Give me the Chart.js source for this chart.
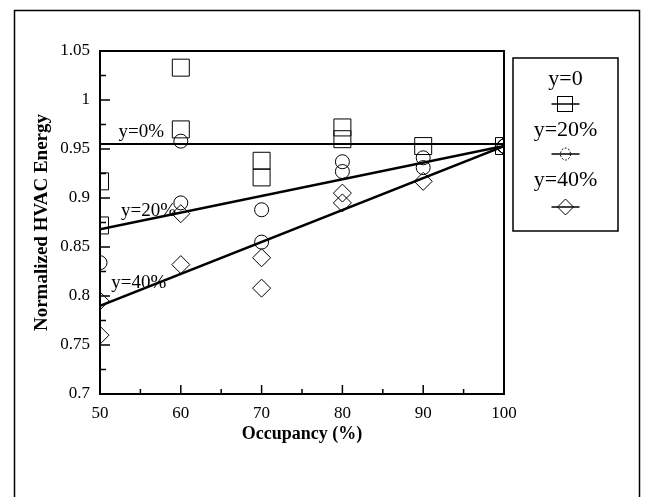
<!DOCTYPE html>
<html>
<head>
<meta charset="utf-8">
<script src="https://cdn.jsdelivr.net/npm/chart.js@4.4.1/dist/chart.umd.min.js"></script>
<style>
  html, body { margin: 0; padding: 0; background: #fff; }
  #wrap { width: 650px; height: 497px; position: relative; }
</style>
</head>
<body>
<div id="wrap"><canvas id="chart" width="650" height="497"></canvas></div>
<script>
// fitted lines (end points)
const lineX = [50, 100];
const fit0 = [0.955, 0.955];
const fit20 = [0.868, 0.953];
const fit40 = [0.79, 0.953];

// y=0 (squares)
const sqX = [50, 50, 60, 60, 70, 70, 80, 80, 90, 100];
const sqY = [0.917, 0.872, 1.033, 0.970, 0.938, 0.921, 0.972, 0.960, 0.953, 0.953];
// y=20% (circles)
const ciX = [50, 60, 60, 70, 70, 80, 80, 90, 90, 100];
const ciY = [0.834, 0.958, 0.895, 0.888, 0.855, 0.937, 0.927, 0.941, 0.931, 0.953];
// y=40% (diamonds)
const diX = [50, 50, 60, 60, 70, 70, 80, 80, 90, 100];
const diY = [0.795, 0.760, 0.884, 0.832, 0.839, 0.808, 0.905, 0.895, 0.917, 0.953];

const xTicks = [50, 60, 70, 80, 90, 100];
const yTicks = [0.7, 0.75, 0.8, 0.85, 0.9, 0.95, 1, 1.05];
const yTickLabels = ['0.7', '0.75', '0.8', '0.85', '0.9', '0.95', '1', '1.05'];
const lineLabels = ['y=0%', 'y=20%', 'y=40%'];
const legendTitles = ['y=0', 'y=20%', 'y=40%'];

const SERIF = '"Liberation Serif", "DejaVu Serif", serif';

function pts(xs, ys) {
    return xs.map((x, i) => ({ x: x, y: ys[i] }));
}

function markerSet(xs, ys, style, r) {
    return {
        type: 'scatter',
        data: pts(xs, ys),
        pointStyle: style,
        pointRadius: r,
        pointHoverRadius: r,
        pointBorderWidth: 1,
        borderColor: '#000',
        backgroundColor: 'rgba(0,0,0,0)',
        clip: 0
    };
}

function fitSet(ys, w) {
    return {
        type: 'line',
        data: pts(lineX, ys),
        borderColor: '#000',
        borderWidth: w,
        pointRadius: 0,
        fill: false,
        tension: 0
    };
}

// outer frame and white page
const pageFrame = {
    id: 'pageFrame',
    beforeDraw(chart) {
        const ctx = chart.ctx;
        ctx.save();
        ctx.fillStyle = '#fff';
        ctx.fillRect(0, 0, chart.width, chart.height);
        ctx.strokeStyle = '#000';
        ctx.lineWidth = 1.5;
        ctx.strokeRect(14.5, 10.5, 625, 520);
        ctx.restore();
    }
};

// box edges, inward ticks, line labels
const plotDecor = {
    id: 'plotDecor',
    afterDraw(chart) {
        const { ctx, chartArea: a, scales: { x, y } } = chart;
        ctx.save();
        ctx.strokeStyle = '#000';
        ctx.lineWidth = 2;
        ctx.beginPath();
        ctx.moveTo(a.left, a.top);
        ctx.lineTo(a.right, a.top);
        ctx.lineTo(a.right, a.bottom);
        ctx.stroke();

        ctx.lineWidth = 1.5;
        ctx.beginPath();
        xTicks.forEach((v, i) => {
            const px = x.getPixelForValue(v);
            ctx.moveTo(px, a.bottom);
            ctx.lineTo(px, a.bottom - 9);
            if (i < xTicks.length - 1) {
                const mx = x.getPixelForValue((v + xTicks[i + 1]) / 2);
                ctx.moveTo(mx, a.bottom);
                ctx.lineTo(mx, a.bottom - 5);
            }
        });
        yTicks.forEach((v, i) => {
            const py = y.getPixelForValue(v);
            ctx.moveTo(a.left, py);
            ctx.lineTo(a.left + 10, py);
            if (i < yTicks.length - 1) {
                const my = y.getPixelForValue((v + yTicks[i + 1]) / 2);
                ctx.moveTo(a.left, my);
                ctx.lineTo(a.left + 6, my);
            }
        });
        ctx.stroke();

        // labels next to the fitted lines
        ctx.fillStyle = '#000';
        ctx.font = '19px ' + SERIF;
        ctx.textBaseline = 'alphabetic';
        ctx.textAlign = 'left';
        const spots = [[52.3, 0.962], [52.6, 0.882], [51.4, 0.808]];
        lineLabels.forEach((t, i) => {
            ctx.fillText(t, x.getPixelForValue(spots[i][0]), y.getPixelForValue(spots[i][1]));
        });
        ctx.restore();
    }
};

// legend box: title above each symbol
const legendBox = {
    id: 'legendBox',
    afterDraw(chart) {
        const ctx = chart.ctx;
        const left = 513, top = 58, w = 105, h = 173;
        const cx = left + w / 2;
        ctx.save();
        ctx.strokeStyle = '#000';
        ctx.lineWidth = 1.5;
        ctx.strokeRect(left, top, w, h);
        ctx.fillStyle = '#000';
        ctx.font = '22px ' + SERIF;
        ctx.textAlign = 'center';
        ctx.textBaseline = 'middle';
        const textY = [79, 130, 180];
        const symY = [104, 154, 207];
        legendTitles.forEach((t, i) => ctx.fillText(t, cx, textY[i]));

        ctx.lineWidth = 1.5;
        symY.forEach(sy => {
            ctx.beginPath();
            ctx.moveTo(cx - 14, sy);
            ctx.lineTo(cx + 14, sy);
            ctx.stroke();
        });
        ctx.lineWidth = 1;
        // square
        ctx.strokeRect(cx - 8, symY[0] - 7.5, 15, 15);
        // circle (dashed in the scan)
        ctx.setLineDash([2, 1.5]);
        ctx.beginPath();
        ctx.ellipse(cx, symY[1], 5, 6, 0, 0, Math.PI * 2);
        ctx.stroke();
        ctx.setLineDash([]);
        // diamond
        ctx.beginPath();
        ctx.moveTo(cx, symY[2] - 8);
        ctx.lineTo(cx + 8, symY[2]);
        ctx.lineTo(cx, symY[2] + 8);
        ctx.lineTo(cx - 8, symY[2]);
        ctx.closePath();
        ctx.stroke();
        ctx.restore();
    }
};

new Chart(document.getElementById('chart'), {
    data: {
        datasets: [
            markerSet(sqX, sqY, 'rect', 12),
            markerSet(ciX, ciY, 'circle', 7),
            markerSet(diX, diY, 'rectRot', 9),
            fitSet(fit0, 2),
            fitSet(fit20, 2.5),
            fitSet(fit40, 2.5)
        ]
    },
    options: {
        responsive: false,
        animation: false,
        events: [],
        layout: { padding: { left: 14, right: 146, top: 51, bottom: 52 } },
        plugins: { legend: { display: false }, tooltip: { enabled: false } },
        scales: {
            x: {
                type: 'linear',
                min: 50,
                max: 100,
                afterBuildTicks: s => { s.ticks = xTicks.map(v => ({ value: v })); },
                afterFit: s => { s.height = 51; },
                grid: { drawOnChartArea: false, drawTicks: false },
                border: { display: true, color: '#000', width: 2 },
                ticks: {
                    color: '#000',
                    padding: 9,
                    maxRotation: 0,
                    font: { family: SERIF, size: 17 },
                    callback: v => String(v)
                },
                title: {
                    display: true,
                    text: 'Occupancy (%)',
                    color: '#000',
                    padding: { top: 0, bottom: 0 },
                    font: { family: SERIF, size: 18, weight: 'bold' }
                }
            },
            y: {
                type: 'linear',
                min: 0.7,
                max: 1.05,
                afterBuildTicks: s => { s.ticks = yTicks.map(v => ({ value: v })); },
                afterFit: s => { s.width = 86; },
                grid: { drawOnChartArea: false, drawTicks: false },
                border: { display: true, color: '#000', width: 2 },
                ticks: {
                    color: '#000',
                    padding: 10,
                    font: { family: SERIF, size: 17 },
                    callback: v => yTickLabels[yTicks.findIndex(t => Math.abs(t - v) < 1e-6)]
                },
                title: {
                    display: true,
                    text: 'Normalized HVAC Energy',
                    color: '#000',
                    padding: { top: 17, bottom: 0 },
                    font: { family: SERIF, size: 19, weight: 'bold' }
                }
            }
        }
    },
    plugins: [pageFrame, plotDecor, legendBox]
});
</script>
</body>
</html>
